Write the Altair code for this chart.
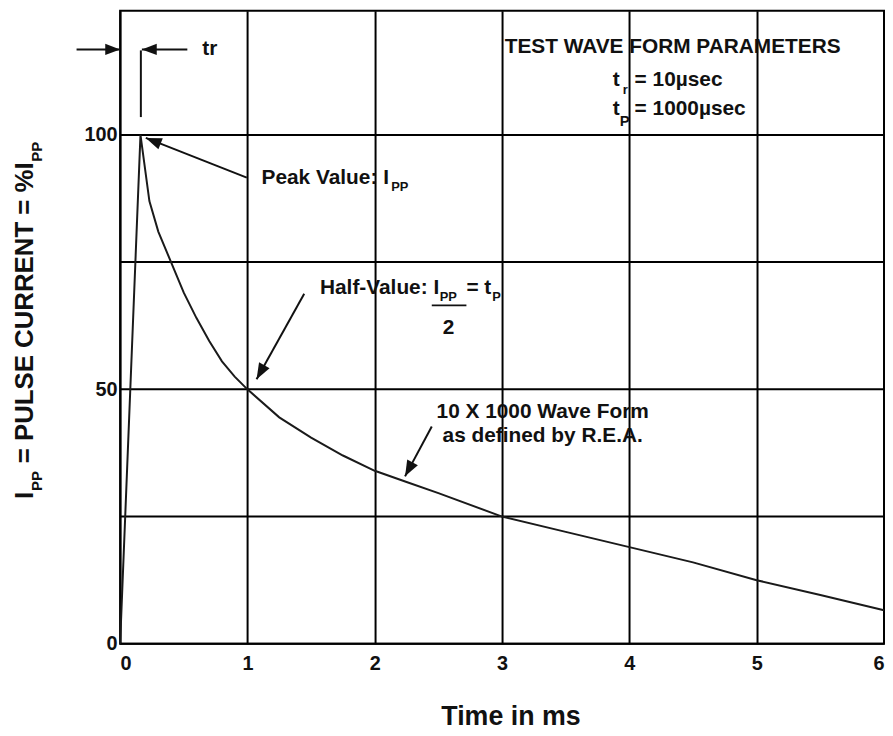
import math
import altair as alt
import pandas as pd

# ---------------- data ----------------
# 10 x 1000 us test wave form (time in ms, current in % of Ipp)
time_ms = [0.0, 0.16, 0.23, 0.3, 0.4, 0.5, 0.6, 0.7, 0.8, 0.9, 1.0, 1.25, 1.5,
           1.75, 2.0, 2.25, 2.5, 3.0, 3.5, 4.0, 4.5, 5.0, 5.5, 6.0]
current_pct = [0.0, 100.0, 87.0, 81.0, 75.0, 69.0, 64.0, 59.5, 55.5, 52.5, 50.0,
               44.5, 40.5, 37.0, 34.0, 31.8, 29.6, 25.0, 22.0, 19.0, 16.0, 12.5,
               9.6, 6.6]
x_ticks = [0, 1, 2, 3, 4, 5, 6]
y_labels = [0, 50, 100]
y_grid = [0, 25, 50, 75, 100]

FONT = "Liberation Sans"
INK = "#111111"
X_MAX, Y_MAX = 6.0, 124.37
W, H = 770, 638
PPT, PPV = W / X_MAX, H / Y_MAX  # pixels per ms / per %

xs = alt.Scale(domain=[0, X_MAX], nice=False, zero=False)
ys = alt.Scale(domain=[0, Y_MAX], nice=False, zero=False)

x_axis = alt.Axis(
    values=x_ticks, title=None, grid=True, ticks=False, domain=False,
    labelFont=FONT, labelFontSize=20, labelFontWeight="bold", labelColor=INK,
    labelPadding=10, labelFlush=False,
    labelAlign={"condition": [
        {"test": "datum.value == 0", "value": "left"},
        {"test": "datum.value == 6", "value": "right"}], "value": "center"},
    gridColor="#000000", gridWidth=2, gridOpacity=1)
y_axis = alt.Axis(
    values=y_labels, title=None, grid=False, ticks=False, domain=False,
    labelFont=FONT, labelFontSize=20, labelFontWeight="bold", labelColor=INK,
    labelPadding=3, labelBaseline="middle", labelFlush=False)


def X(field):
    return alt.X(field, scale=xs, axis=x_axis)


def Y(field):
    return alt.Y(field, scale=ys, axis=y_axis)


# ---------------- horizontal grid + curve ----------------
hgrid = alt.Chart(pd.DataFrame({"v": y_grid})).mark_rule(
    color="#000000", strokeWidth=2
).encode(y=Y("v:Q"))

curve = alt.Chart(pd.DataFrame({"t": time_ms, "v": current_pct})).mark_line(
    color="#1a1a1a", strokeWidth=2
).encode(x=X("t:Q"), y=Y("v:Q"))


# ---------------- annotations (data units) ----------------
def text_layer(rows, size, align="left", baseline="alphabetic"):
    df = pd.DataFrame(rows, columns=["t", "v", "s"])
    return alt.Chart(df).mark_text(
        font=FONT, fontWeight="bold", fontSize=size, align=align,
        baseline=baseline, color=INK
    ).encode(x=X("t:Q"), y=Y("v:Q"), text="s:N")


# line segments: (t, v, t2, v2)
segments = [
    (-0.342, 116.8, 0.0, 116.8),     # left tr arrow shaft
    (0.528, 116.8, 0.171, 116.8),    # right tr arrow shaft
    (0.163, 116.6, 0.163, 103.5),    # tr vertical marker
    (0.995, 91.6, 0.202, 99.4),      # peak value arrow
    (1.446, 68.8, 1.072, 52.0),      # half value arrow
    (2.448, 42.7, 2.238, 32.9),      # wave form arrow
    (2.448, 66.5, 2.720, 66.5),      # fraction bar
]
seg_df = pd.DataFrame(segments, columns=["t", "v", "t2", "v2"])
rules = alt.Chart(seg_df).mark_rule(color=INK, strokeWidth=2).encode(
    x=X("t:Q"), x2="t2:Q", y=Y("v:Q"), y2="v2:Q",
)

# arrow heads: tip position, direction from tail
heads = []
for (t0, v0, t1, v1), size in [
    ((-0.342, 116.8, 0.0, 116.8), 900),
    ((0.528, 116.8, 0.171, 116.8), 900),
    ((0.995, 91.6, 0.202, 99.4), 1024),
    ((1.446, 68.8, 1.072, 52.0), 1024),
    ((2.448, 42.7, 2.238, 32.9), 1024),
]:
    dx = (t1 - t0) * PPT
    dy = -(v1 - v0) * PPV
    ang = math.degrees(math.atan2(dx, -dy)) % 360
    heads.append((t1, v1, ang, size))
head_df = pd.DataFrame(heads, columns=["t", "v", "ang", "sz"])
arrowheads = alt.Chart(head_df).mark_point(
    shape="M0,0L-0.38,1L0.38,1Z", filled=True, color=INK, opacity=1, strokeWidth=0
).encode(
    x=X("t:Q"), y=Y("v:Q"),
    angle=alt.Angle("ang:Q", scale=None),
    size=alt.Size("sz:Q", scale=None),
)

main_text = text_layer([
    (0.645, 115.6, "tr"),
    (1.111, 90.3, "Peak Value: I"),
    (1.570, 68.8, "Half-Value: I"),
    (2.720, 68.8, "= t"),
    (3.870, 109.7, "t"),
    (4.041, 109.7, "= 10µsec"),
    (3.870, 103.9, "t"),
    (4.041, 103.9, "= 1000µsec"),
], 21)
sub_text = text_layer([
    (2.129, 88.9, "PP"),
    (2.510, 67.4, "PP"),
    (2.922, 67.4, "P"),
    (3.948, 108.0, "r"),
], 13)
sub_text2 = text_layer([
    (3.925, 101.8, "P"),
], 15)
center_text = text_layer([
    (4.340, 116.0, "TEST WAVE FORM PARAMETERS"),
    (3.319, 44.4, "10 X 1000 Wave Form"),
    (3.319, 39.6, "as defined by R.E.A."),
], 21, align="center")
two_text = text_layer([(2.580, 62.0, "2")], 21, align="center", baseline="middle")


# ---------------- axis titles (pixel placement outside the plot) ----------------
def px_text(x, y, s, size, angle=0, align="left"):
    return alt.Chart(pd.DataFrame({"s": [s]})).mark_text(
        font=FONT, fontWeight="bold", fontSize=size, align=align,
        baseline="alphabetic", angle=angle, color=INK
    ).encode(x=alt.value(x), y=alt.value(y), text="s:N")


x_title = px_text(394, 720, "Time in ms", 27, align="center")
y_title = [
    px_text(-88, 492, "I", 26, angle=270),
    px_text(-79, 484, "PP", 15, angle=270),
    px_text(-88, 456, "= PULSE CURRENT = %I", 26, angle=270),
    px_text(-79, 152, "PP", 15, angle=270),
]

chart = alt.layer(
    hgrid, curve, rules, arrowheads, main_text, sub_text, sub_text2, center_text,
    two_text, x_title, *y_title
).properties(
    width=W, height=H,
    autosize=alt.AutoSizeParams(type="none"),
    padding={"left": 113, "top": 0, "right": 1, "bottom": 84},
    background="#ffffff",
).configure_view(
    stroke="#000000", strokeWidth=2
)

chart.save("out.html", embed_options={"renderer": "svg", "actions": False})
